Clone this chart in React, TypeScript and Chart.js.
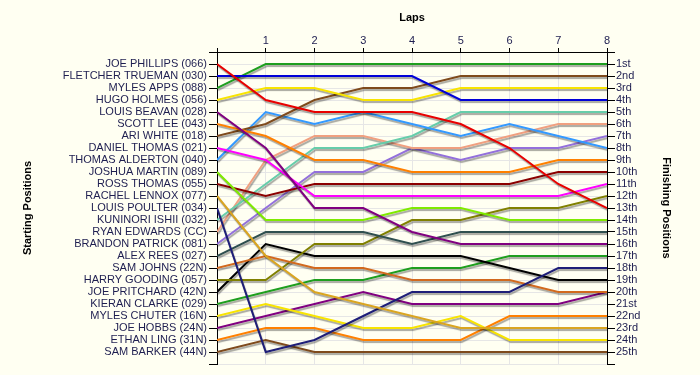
import React, { useEffect, useRef } from "react";
import { Chart, registerables } from "chart.js";

Chart.register(...registerables);

const laps = [0, 1, 2, 3, 4, 5, 6, 7, 8];

const drivers = [
  "JOE PHILLIPS (066)",
  "FLETCHER TRUEMAN (030)",
  "MYLES APPS (088)",
  "HUGO HOLMES (056)",
  "LOUIS BEAVAN (028)",
  "SCOTT LEE (043)",
  "ARI WHITE (018)",
  "DANIEL THOMAS (021)",
  "THOMAS ALDERTON (040)",
  "JOSHUA MARTIN (089)",
  "ROSS THOMAS (055)",
  "RACHEL LENNOX (077)",
  "LOUIS POULTER (034)",
  "KUNINORI ISHII (032)",
  "RYAN EDWARDS (CC)",
  "BRANDON PATRICK (081)",
  "ALEX REES (027)",
  "SAM JOHNS (22N)",
  "HARRY GOODING (057)",
  "JOE PRITCHARD (42N)",
  "KIERAN CLARKE (029)",
  "MYLES CHUTER (16N)",
  "JOE HOBBS (24N)",
  "ETHAN LING (31N)",
  "SAM BARKER (44N)",
];

const finishLabels = [
  "1st", "2nd", "3rd", "4th", "5th", "6th", "7th", "8th", "9th", "10th",
  "11th", "12th", "13th", "14th", "15th", "16th", "17th", "18th", "19th", "20th",
  "21st", "22nd", "23rd", "24th", "25th",
];

// starting position of each driver
const startPositions = [
  1, 2, 3, 4, 5, 6, 7, 8, 9, 10, 11, 12, 13, 14, 15, 16, 17, 18, 19, 20, 21, 22, 23, 24, 25,
];

// positions at the end of laps 1..8, one list per driver (same order as drivers)
const lapPositions: number[][] = [
  [4, 5, 5, 5, 6, 8, 11, 13],
  [2, 2, 2, 2, 4, 4, 4, 4],
  [1, 1, 1, 1, 1, 1, 1, 1],
  [3, 3, 4, 4, 3, 3, 3, 3],
  [8, 13, 13, 15, 16, 16, 16, 16],
  [7, 9, 9, 10, 10, 10, 9, 9],
  [6, 4, 3, 3, 2, 2, 2, 2],
  [9, 12, 12, 12, 12, 12, 12, 11],
  [5, 6, 5, 6, 7, 6, 7, 8],
  [14, 14, 14, 13, 13, 14, 14, 14],
  [12, 11, 11, 11, 11, 11, 10, 10],
  [17, 20, 21, 22, 23, 23, 23, 23],
  [25, 24, 22, 20, 20, 20, 18, 18],
  [11, 8, 8, 7, 5, 5, 5, 5],
  [9, 7, 7, 8, 8, 7, 6, 6],
  [13, 10, 10, 8, 9, 8, 8, 7],
  [15, 15, 15, 16, 15, 15, 15, 15],
  [17, 18, 18, 19, 19, 19, 20, 20],
  [19, 16, 16, 14, 14, 13, 13, 12],
  [16, 17, 17, 17, 17, 18, 19, 19],
  [20, 19, 19, 18, 18, 17, 17, 17],
  [21, 22, 23, 23, 22, 24, 24, 24],
  [22, 21, 20, 21, 21, 21, 21, 20],
  [23, 23, 24, 24, 24, 22, 22, 22],
  [24, 25, 25, 25, 25, 25, 25, 25],
];

const lineColors = [
  "#E80000", "#0000D8", "#1E9E1E", "#F8E400", "#800080",
  "#FF8000", "#7E4A1C", "#FF00FF", "#3399FF", "#7FEA00",
  "#8B0000", "#DAA520", "#1E1E78", "#66CDAA", "#F0A080",
  "#9370DB", "#2F4F4F", "#D2691E", "#808000", "#000000",
  "#1E9E1E", "#F8E400", "#800080", "#FF8000", "#7E4A1C",
];

const BG = "#FFFFF2";
const TEXT = "#1E1E50";
const GRID = "#E6E6E6";

const shadowPlugin = {
  id: "lineShadow",
  beforeDatasetsDraw(chart: any) {
    const c = chart.ctx;
    c.save();
    c.shadowColor = "rgba(0,0,0,0.35)";
    c.shadowOffsetX = 1;
    c.shadowOffsetY = 2;
    c.shadowBlur = 1;
  },
  afterDatasetsDraw(chart: any) {
    chart.ctx.restore();
  },
};

export default function App() {
  const ref = useRef<HTMLCanvasElement | null>(null);

  useEffect(() => {
    if (!ref.current) return;
    Chart.defaults.font.family = "'Liberation Sans', Arial, sans-serif";
    Chart.defaults.font.size = 11;

    const datasets = drivers.map((name, i) => ({
      label: name,
      data: laps.map((lap, k) => ({
        x: lap,
        y: k === 0 ? startPositions[i] : lapPositions[i][k - 1],
      })),
      borderColor: lineColors[i],
      backgroundColor: lineColors[i],
      borderWidth: 2,
      pointRadius: 0,
      tension: 0,
      fill: false,
      yAxisID: "y",
    }));

    const chart = new Chart(ref.current, {
      type: "line",
      data: { datasets },
      plugins: [shadowPlugin],
      options: {
        animation: false,
        responsive: false,
        devicePixelRatio: 1,
        layout: { padding: { left: 0, right: 0, top: 0, bottom: 11 } },
        plugins: { legend: { display: false }, tooltip: { enabled: false } },
        scales: {
          x: {
            type: "linear",
            position: "top",
            min: 0,
            max: 8,
            ticks: {
              stepSize: 1,
              autoSkip: false,
              maxRotation: 0,
              padding: 0,
              color: TEXT,
              font: { size: 11 },
              callback: (v: any) => (v === 0 ? "" : String(v)),
            },
            grid: { color: GRID, tickColor: "#000", tickLength: 4 },
            border: { color: "#000", width: 1 },
            title: {
              display: true,
              text: "Laps",
              color: "#000",
              font: { size: 11, weight: "bold" },
              padding: { top: 11, bottom: 0 },
            },
            afterFit: (s: any) => {
              s.height = 52;
            },
          },
          y: {
            type: "linear",
            position: "left",
            reverse: true,
            min: 0,
            max: 26,
            ticks: {
              stepSize: 1,
              autoSkip: false,
              padding: 2,
              color: TEXT,
              font: { size: 11 },
              callback: (v: any) => drivers[v - 1] ?? "",
            },
            grid: { color: GRID, tickColor: "#000", tickLength: 8 },
            border: { color: "#000", width: 1 },
            title: {
              display: true,
              text: "Starting Positions",
              color: "#000",
              font: { size: 11, weight: "bold" },
              padding: { top: 21, bottom: 0 },
            },
            afterFit: (s: any) => {
              s.width = 217;
            },
          },
          y2: {
            type: "linear",
            display: true,
            position: "right",
            reverse: true,
            min: 0,
            max: 26,
            ticks: {
              stepSize: 1,
              autoSkip: false,
              padding: 1,
              color: TEXT,
              font: { size: 11 },
              callback: (v: any) => finishLabels[v - 1] ?? "",
            },
            grid: { drawOnChartArea: false, tickColor: "#000", tickLength: 8 },
            border: { color: "#000", width: 1 },
            title: {
              display: true,
              text: "Finishing Positions",
              color: "#000",
              font: { size: 11, weight: "bold" },
              padding: { top: 27, bottom: 0 },
            },
            afterFit: (s: any) => {
              s.width = 93;
            },
          },
        },
      } as any,
    });

    return () => chart.destroy();
  }, []);

  return (
    <div
      style={{
        position: "absolute",
        left: 0,
        top: 0,
        width: 700,
        height: 375,
        background: BG,
      }}
    >
      <canvas ref={ref} width={700} height={375} style={{ display: "block" }} />
    </div>
  );
}
